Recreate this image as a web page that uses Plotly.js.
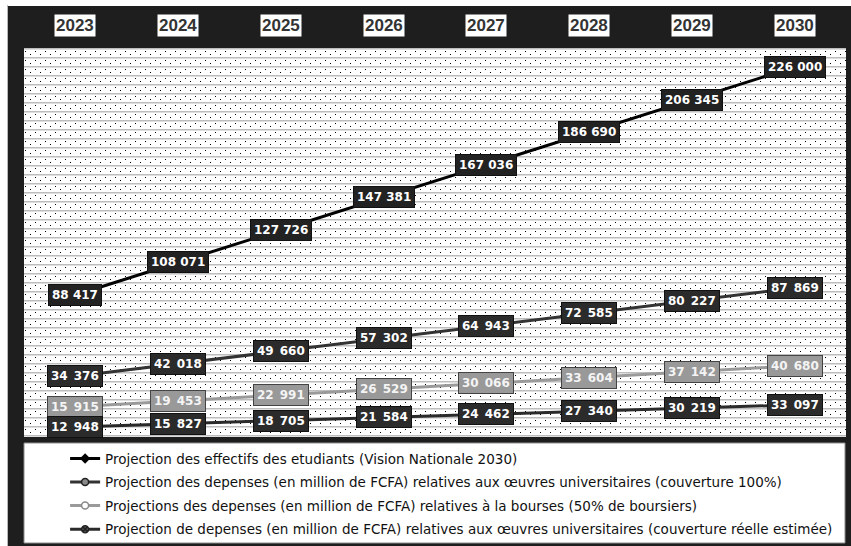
<!DOCTYPE html>
<html>
<head>
<meta charset="utf-8">
<script src="https://cdn.plot.ly/plotly-3.0.1.min.js"></script>
<style>
  html, body { margin: 0; padding: 0; background: #ffffff; }
  #chart { position: absolute; left: 8px; top: 6px; width: 843px; height: 540px; }
  #edge { position: absolute; left: 7px; top: 5px; width: 1px; height: 541px; background: #b8b8b8; }
</style>
</head>
<body>
<div id="edge"></div>
<div id="chart"></div>
<script>
// chart values
const years = ['2023', '2024', '2025', '2026', '2027', '2028', '2029', '2030'];
const effectifs = [88417, 108071, 127726, 147381, 167036, 186690, 206345, 226000];
const depenses100 = [34376, 42018, 49660, 57302, 64943, 72585, 80227, 87869];
const bourses = [15915, 19453, 22991, 26529, 30066, 33604, 37142, 40680];
const depensesReelles = [12948, 15827, 18705, 21584, 24462, 27340, 30219, 33097];
const seriesNames = [
  'Projection des effectifs des etudiants (Vision Nationale 2030)',
  'Projection des depenses (en million de FCFA) relatives aux œuvres universitaires (couverture 100%)',
  'Projections des depenses (en million de FCFA) relatives à la bourses (50% de boursiers)',
  'Projection de depenses (en million de FCFA) relatives aux œuvres universitaires (couverture réelle estimée)'
];

// thousands with a space
function fmt(v, sep) {
  return String(v).replace(/\B(?=(\d{3})+(?!\d))/g, sep);
}

const series = [
  { y: effectifs, axis: 'y', line: '#000000', marker: { color: '#000000', symbol: 'diamond', size: 8 },
    box: '#222222', border: '#111111', text: '#ffffff', sep: ' ' },
  { y: depenses100, axis: 'y2', line: '#333333', marker: { color: '#8a8a8a', symbol: 'circle', size: 7, line: { color: '#222222', width: 1.5 } },
    box: '#2b2b2b', border: '#111111', text: '#ffffff', sep: '\u2002' },
  { y: bourses, axis: 'y2', line: '#9a9a9a', marker: { color: '#ffffff', symbol: 'circle', size: 7, line: { color: '#8a8a8a', width: 1.5 } },
    box: '#999999', border: '#444444', text: '#f4f4f4', sep: '\u2002' },
  { y: depensesReelles, axis: 'y3', line: '#2a2a2a', marker: { color: '#555555', symbol: 'circle-x', size: 7, line: { color: '#222222', width: 1.5 } },
    box: '#2b2b2b', border: '#111111', text: '#ffffff', sep: '\u2002' }
];

const traces = series.map((s, i) => ({
  x: years,
  y: s.y,
  name: seriesNames[i],
  yaxis: s.axis,
  type: 'scatter',
  mode: 'lines+markers',
  line: { color: s.line, width: 3 },
  marker: s.marker,
  legendgroup: 'g' + i,
  hoverinfo: 'skip'
}));

// category axis: annotations take the category index
const annotations = [];
series.forEach((s) => {
  s.y.forEach((v, j) => {
    annotations.push({
      x: j, y: v, xref: 'x', yref: s.axis,
      text: fmt(v, s.sep), showarrow: false,
      bgcolor: s.box, bordercolor: s.border, borderwidth: 1, borderpad: 3,
      font: { family: 'DejaVu Sans', size: 12, color: s.text, weight: 'bold' }
    });
  });
});
years.forEach((yr, j) => {
  annotations.push({
    x: j, y: 1, xref: 'x', yref: 'paper', yanchor: 'bottom', yshift: 11,
    text: yr, showarrow: false, bgcolor: '#ffffff', borderpad: 1,
    font: { family: 'Liberation Sans', size: 17, color: '#333333', weight: 'bold' }
  });
});

// dotted background with thin gray rules
const pat = "<svg xmlns='http://www.w3.org/2000/svg' width='822' height='389'>" +
  "<defs><pattern id='p' width='10' height='9' patternUnits='userSpaceOnUse'>" +
  "<rect width='10' height='9' fill='#ffffff'/>" +
  "<rect y='0' width='10' height='1.5' fill='#bdbdbd'/>" +
  "<rect x='1' y='3' width='1' height='1' fill='#000000'/>" +
  "<rect x='6' y='6' width='1' height='1' fill='#000000'/>" +
  "</pattern></defs><rect width='822' height='389' fill='url(#p)'/></svg>";

const layout = {
  width: 843,
  height: 540,
  margin: { l: 16, r: 5, t: 42, b: 109, autoexpand: false },
  paper_bgcolor: '#1e1e1e',
  plot_bgcolor: '#ffffff',
  showlegend: true,
  xaxis: { type: 'category', range: [-0.5, 7.5], side: 'top', showticklabels: false,
    showgrid: false, zeroline: false, fixedrange: true },
  yaxis: { range: [2716, 237477], visible: false, fixedrange: true },
  yaxis2: { range: [-2424, 233333], overlaying: 'y', visible: false, fixedrange: true },
  yaxis3: { range: [3670, 360550], overlaying: 'y', visible: false, fixedrange: true },
  images: [{
    source: 'data:image/svg+xml;charset=utf-8,' + encodeURIComponent(pat),
    xref: 'paper', yref: 'paper', x: 0, y: 1, sizex: 1, sizey: 1,
    sizing: 'stretch', xanchor: 'left', yanchor: 'top', layer: 'below'
  }],
  shapes: [{
    type: 'rect', xref: 'paper', yref: 'paper',
    x0: 0, x1: 0.9988, y0: -0.2725, y1: -0.0154,
    fillcolor: '#ffffff', line: { color: '#8c8c8c', width: 1 }, layer: 'below'
  }],
  legend: {
    x: 0.05, y: -0.016, xanchor: 'left', yanchor: 'top',
    orientation: 'v', bgcolor: 'rgba(0,0,0,0)', borderwidth: 0,
    traceorder: 'grouped', tracegroupgap: 3, itemwidth: 30,
    font: { family: 'DejaVu Sans', size: 13.5, color: '#111111' }
  },
  annotations: annotations
};

Plotly.newPlot('chart', traces, layout, { displayModeBar: false, staticPlot: true });
</script>
</body>
</html>
